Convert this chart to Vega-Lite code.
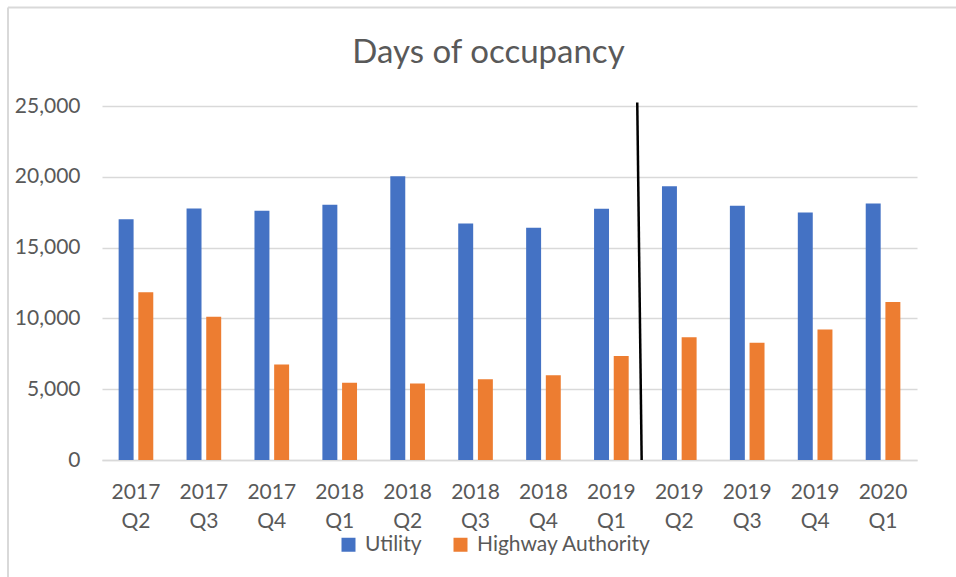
{
  "$schema": "https://vega.github.io/schema/vega-lite/v6.json",
  "autosize": {"type": "none"},
  "width": 815,
  "height": 354,
  "padding": {"left": 102, "top": 106, "right": 39, "bottom": 117},
  "background": "white",
  "title": {
    "text": "Days of occupancy",
    "font": "Lato",
    "fontSize": 33,
    "fontWeight": "normal",
    "color": "#595959",
    "anchor": "middle",
    "dx": -21,
    "offset": -64
  },
  "datasets": {
    "bars": [
      {"quarter": "2017 Q2", "series": "Utility", "days": 17000},
      {"quarter": "2017 Q2", "series": "Highway Authority", "days": 11850},
      {"quarter": "2017 Q3", "series": "Utility", "days": 17760},
      {"quarter": "2017 Q3", "series": "Highway Authority", "days": 10110},
      {"quarter": "2017 Q4", "series": "Utility", "days": 17600},
      {"quarter": "2017 Q4", "series": "Highway Authority", "days": 6750},
      {"quarter": "2018 Q1", "series": "Utility", "days": 18020},
      {"quarter": "2018 Q1", "series": "Highway Authority", "days": 5460},
      {"quarter": "2018 Q2", "series": "Utility", "days": 20040},
      {"quarter": "2018 Q2", "series": "Highway Authority", "days": 5410},
      {"quarter": "2018 Q3", "series": "Utility", "days": 16700},
      {"quarter": "2018 Q3", "series": "Highway Authority", "days": 5700},
      {"quarter": "2018 Q4", "series": "Utility", "days": 16400},
      {"quarter": "2018 Q4", "series": "Highway Authority", "days": 5980},
      {"quarter": "2019 Q1", "series": "Utility", "days": 17740},
      {"quarter": "2019 Q1", "series": "Highway Authority", "days": 7340},
      {"quarter": "2019 Q2", "series": "Utility", "days": 19330},
      {"quarter": "2019 Q2", "series": "Highway Authority", "days": 8660},
      {"quarter": "2019 Q3", "series": "Utility", "days": 17950},
      {"quarter": "2019 Q3", "series": "Highway Authority", "days": 8280},
      {"quarter": "2019 Q4", "series": "Utility", "days": 17480},
      {"quarter": "2019 Q4", "series": "Highway Authority", "days": 9220},
      {"quarter": "2020 Q1", "series": "Utility", "days": 18110},
      {"quarter": "2020 Q1", "series": "Highway Authority", "days": 11150}
    ],
    "divider": [
      {"x_top": 7.881, "x_bottom": 7.946, "y_top": 25240, "y_bottom": 0}
    ],
    "frame": [
      {"x1": -1.384, "x2": -1.384, "y1": 31964, "y2": -8300},
      {"x1": -1.384, "x2": 12.6, "y1": 31964, "y2": 31964}
    ]
  },
  "layer": [
    {
      "data": {"name": "frame"},
      "mark": {"type": "rule", "color": "#D9D9D9", "strokeWidth": 2},
      "encoding": {
        "x": {"field": "x1", "type": "quantitative", "scale": {"domain": [0, 12], "nice": false, "zero": false}, "axis": null},
        "x2": {"field": "x2"},
        "y": {"field": "y1", "type": "quantitative"},
        "y2": {"field": "y2"}
      }
    },
    {
      "data": {"name": "bars"},
      "mark": {"type": "bar"},
      "encoding": {
        "x": {
          "field": "quarter",
          "type": "nominal",
          "sort": null,
          "scale": {"paddingInner": 0.49, "paddingOuter": 0.245},
          "axis": {
            "title": null,
            "labelAngle": 0,
            "labelExpr": "split(datum.label, ' ')",
            "labelFont": "Lato",
            "labelFontSize": 21,
            "labelColor": "#595959",
            "labelLineHeight": 29,
            "labelPadding": 21,
            "ticks": false,
            "domainColor": "#D9D9D9",
            "domainWidth": 1.5,
            "grid": false
          }
        },
        "xOffset": {
          "field": "series",
          "type": "nominal",
          "sort": ["Utility", "Highway Authority"],
          "scale": {"paddingInner": 0.24, "paddingOuter": 0}
        },
        "y": {
          "field": "days",
          "type": "quantitative",
          "scale": {"domain": [0, 25000], "nice": false},
          "axis": {
            "title": null,
            "values": [0, 5000, 10000, 15000, 20000, 25000],
            "format": ",.0f",
            "labelFont": "Lato",
            "labelFontSize": 21,
            "labelColor": "#595959",
            "labelPadding": 22,
            "ticks": false,
            "domain": false,
            "gridColor": "#D9D9D9",
            "gridWidth": 1.3
          }
        },
        "color": {
          "field": "series",
          "type": "nominal",
          "sort": ["Utility", "Highway Authority"],
          "scale": {"domain": ["Utility", "Highway Authority"], "range": ["#4472C4", "#ED7D31"]},
          "legend": {
            "title": null,
            "orient": "none",
            "direction": "horizontal",
            "legendX": 236,
            "legendY": 428,
            "symbolType": "square",
            "symbolSize": 196,
            "symbolStrokeWidth": 0,
            "labelFont": "Lato",
            "labelFontSize": 21,
            "labelColor": "#595959",
            "labelLimit": 400,
            "labelOffset": 6,
            "columnPadding": 28
          }
        }
      }
    },
    {
      "data": {"name": "divider"},
      "mark": {"type": "rule", "color": "black", "strokeWidth": 2.5},
      "encoding": {
        "x": {"field": "x_top", "type": "quantitative", "scale": {"domain": [0, 12], "nice": false, "zero": false}, "axis": null},
        "x2": {"field": "x_bottom"},
        "y": {"field": "y_top", "type": "quantitative"},
        "y2": {"field": "y_bottom"}
      }
    }
  ],
  "resolve": {"scale": {"x": "independent"}, "axis": {"x": "independent"}},
  "config": {
    "view": {"stroke": null}
  }
}
